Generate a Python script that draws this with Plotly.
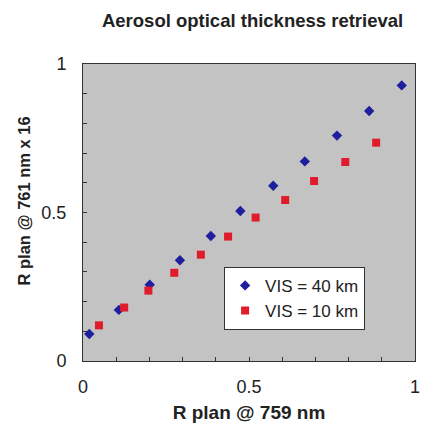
import plotly.graph_objects as go

# Retrieved reflectance pairs for two visibility cases
vis40_x = [0.019, 0.108, 0.201, 0.292, 0.385, 0.474, 0.573, 0.668, 0.765, 0.862, 0.960]
vis40_y = [0.091, 0.172, 0.257, 0.339, 0.421, 0.505, 0.590, 0.672, 0.759, 0.842, 0.928]
vis10_x = [0.048, 0.124, 0.197, 0.275, 0.355, 0.437, 0.520, 0.609, 0.696, 0.790, 0.883]
vis10_y = [0.120, 0.180, 0.237, 0.297, 0.358, 0.419, 0.483, 0.542, 0.606, 0.670, 0.735]

tick_vals = [0, 0.5, 1]
tick_text = ["0", "0.5", "1"]

FONT = "Liberation Sans, Arial, sans-serif"

fig = go.Figure()
fig.add_trace(go.Scatter(
    x=vis40_x, y=vis40_y, mode="markers", name="VIS = 40 km",
    marker=dict(symbol="diamond", size=8, color="#1f1f9e", line=dict(width=0)),
))
fig.add_trace(go.Scatter(
    x=vis10_x, y=vis10_y, mode="markers", name="VIS = 10 km",
    marker=dict(symbol="square", size=8, color="#e01b2c", line=dict(width=0)),
))

axis_common = dict(
    range=[0, 1], tickvals=tick_vals, ticktext=tick_text,
    ticks="inside", ticklen=4, tickcolor="#333", tickwidth=1,
    minor=dict(dtick=0.1, ticks="inside", ticklen=4, tickcolor="#333", tickwidth=1),
    showgrid=False, zeroline=False, showline=True, linecolor="#333", linewidth=1,
    mirror=True, tickfont=dict(family=FONT, size=18, color="#222"),
    ticklabeloverflow="allow", automargin=False,
)

fig.update_layout(
    width=421, height=430,
    margin=dict(l=83, r=6, t=64, b=69, autoexpand=False),
    paper_bgcolor="white", plot_bgcolor="#c3c3c3",
    title=dict(text="<b>Aerosol optical thickness retrieval</b>", x=0.6, xanchor="center",
               y=0.953, yanchor="middle", font=dict(family=FONT, size=18.5, color="#222")),
    xaxis=dict(axis_common, ticklabelstandoff=9,
               title=dict(text="<b>R plan @ 759 nm</b>", standoff=10,
                          font=dict(family=FONT, size=19, color="#222"))),
    yaxis=dict(axis_common, ticklabelstandoff=12),
    legend=dict(x=0.425, y=0.317, xanchor="left", yanchor="top", bgcolor="white",
                bordercolor="#333", borderwidth=1, font=dict(family=FONT, size=17, color="#222"),
                tracegroupgap=0, itemwidth=30),
    showlegend=True,
)

# Vertical axis label, set slightly above the axis centre
fig.add_annotation(
    text="<b>R plan @ 761 nm x 16</b>", textangle=-90,
    xref="paper", yref="paper", x=-0.178, y=0.54,
    xanchor="center", yanchor="middle", showarrow=False,
    font=dict(family=FONT, size=16.5, color="#222"),
)

fig.write_html("out.html")
